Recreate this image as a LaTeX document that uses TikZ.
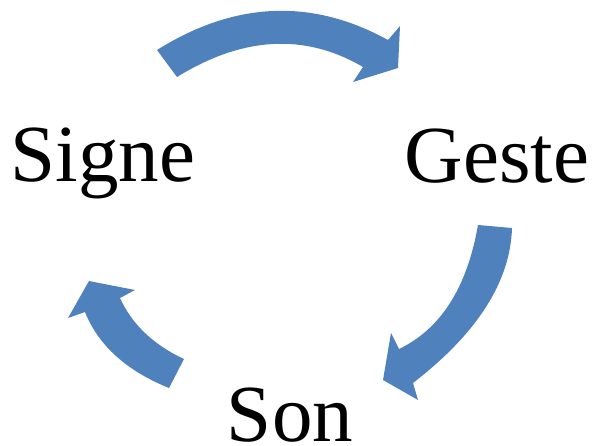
\documentclass[tikz,border=0pt]{standalone}
\usepackage{fontspec}
\setmainfont{Liberation Serif}
\definecolor{arrowblue}{HTML}{4F81BD}
\begin{document}
\begin{tikzpicture}[x=1pt,y=-1pt,
  word/.style={inner sep=0pt,anchor=base,font=\fontsize{81}{97}\selectfont},
  cyclearrow/.style={fill=arrowblue}]
\useasboundingbox (0,0) rectangle (594,445);
% words
\node[word] (signe) at (103,181) {Signe};
\node[word] (geste) at (497,182) {Geste};
\node[word] (son) at (290,441) {Son};
% top arrow (Signe -> Geste)
\fill[cyclearrow] (157,50) .. controls (234.7,1.3) and (311.7,-2) .. (388,40)
  -- (400,26) -- (398,68) -- (353,82) -- (363,67)
  .. controls (305,33) and (243,36.3) .. (177,77) -- cycle;
% right arrow (Geste -> Son)
\fill[cyclearrow] (512,228) .. controls (510.3,281.7) and (477.3,333.3) .. (413,383)
  -- (418,400) -- (383,380) -- (391,333) -- (399,349)
  .. controls (440.7,329) and (467,287.7) .. (478,225) -- cycle;
% left arrow (Son -> Signe)
\fill[cyclearrow] (169,388) .. controls (126.3,370.7) and (98.3,345.3) .. (85,312)
  -- (68,318) -- (89,281) -- (135,290) -- (120,298)
  .. controls (132,324.3) and (153.3,344.7) .. (184,359) -- cycle;
\end{tikzpicture}
\end{document}
